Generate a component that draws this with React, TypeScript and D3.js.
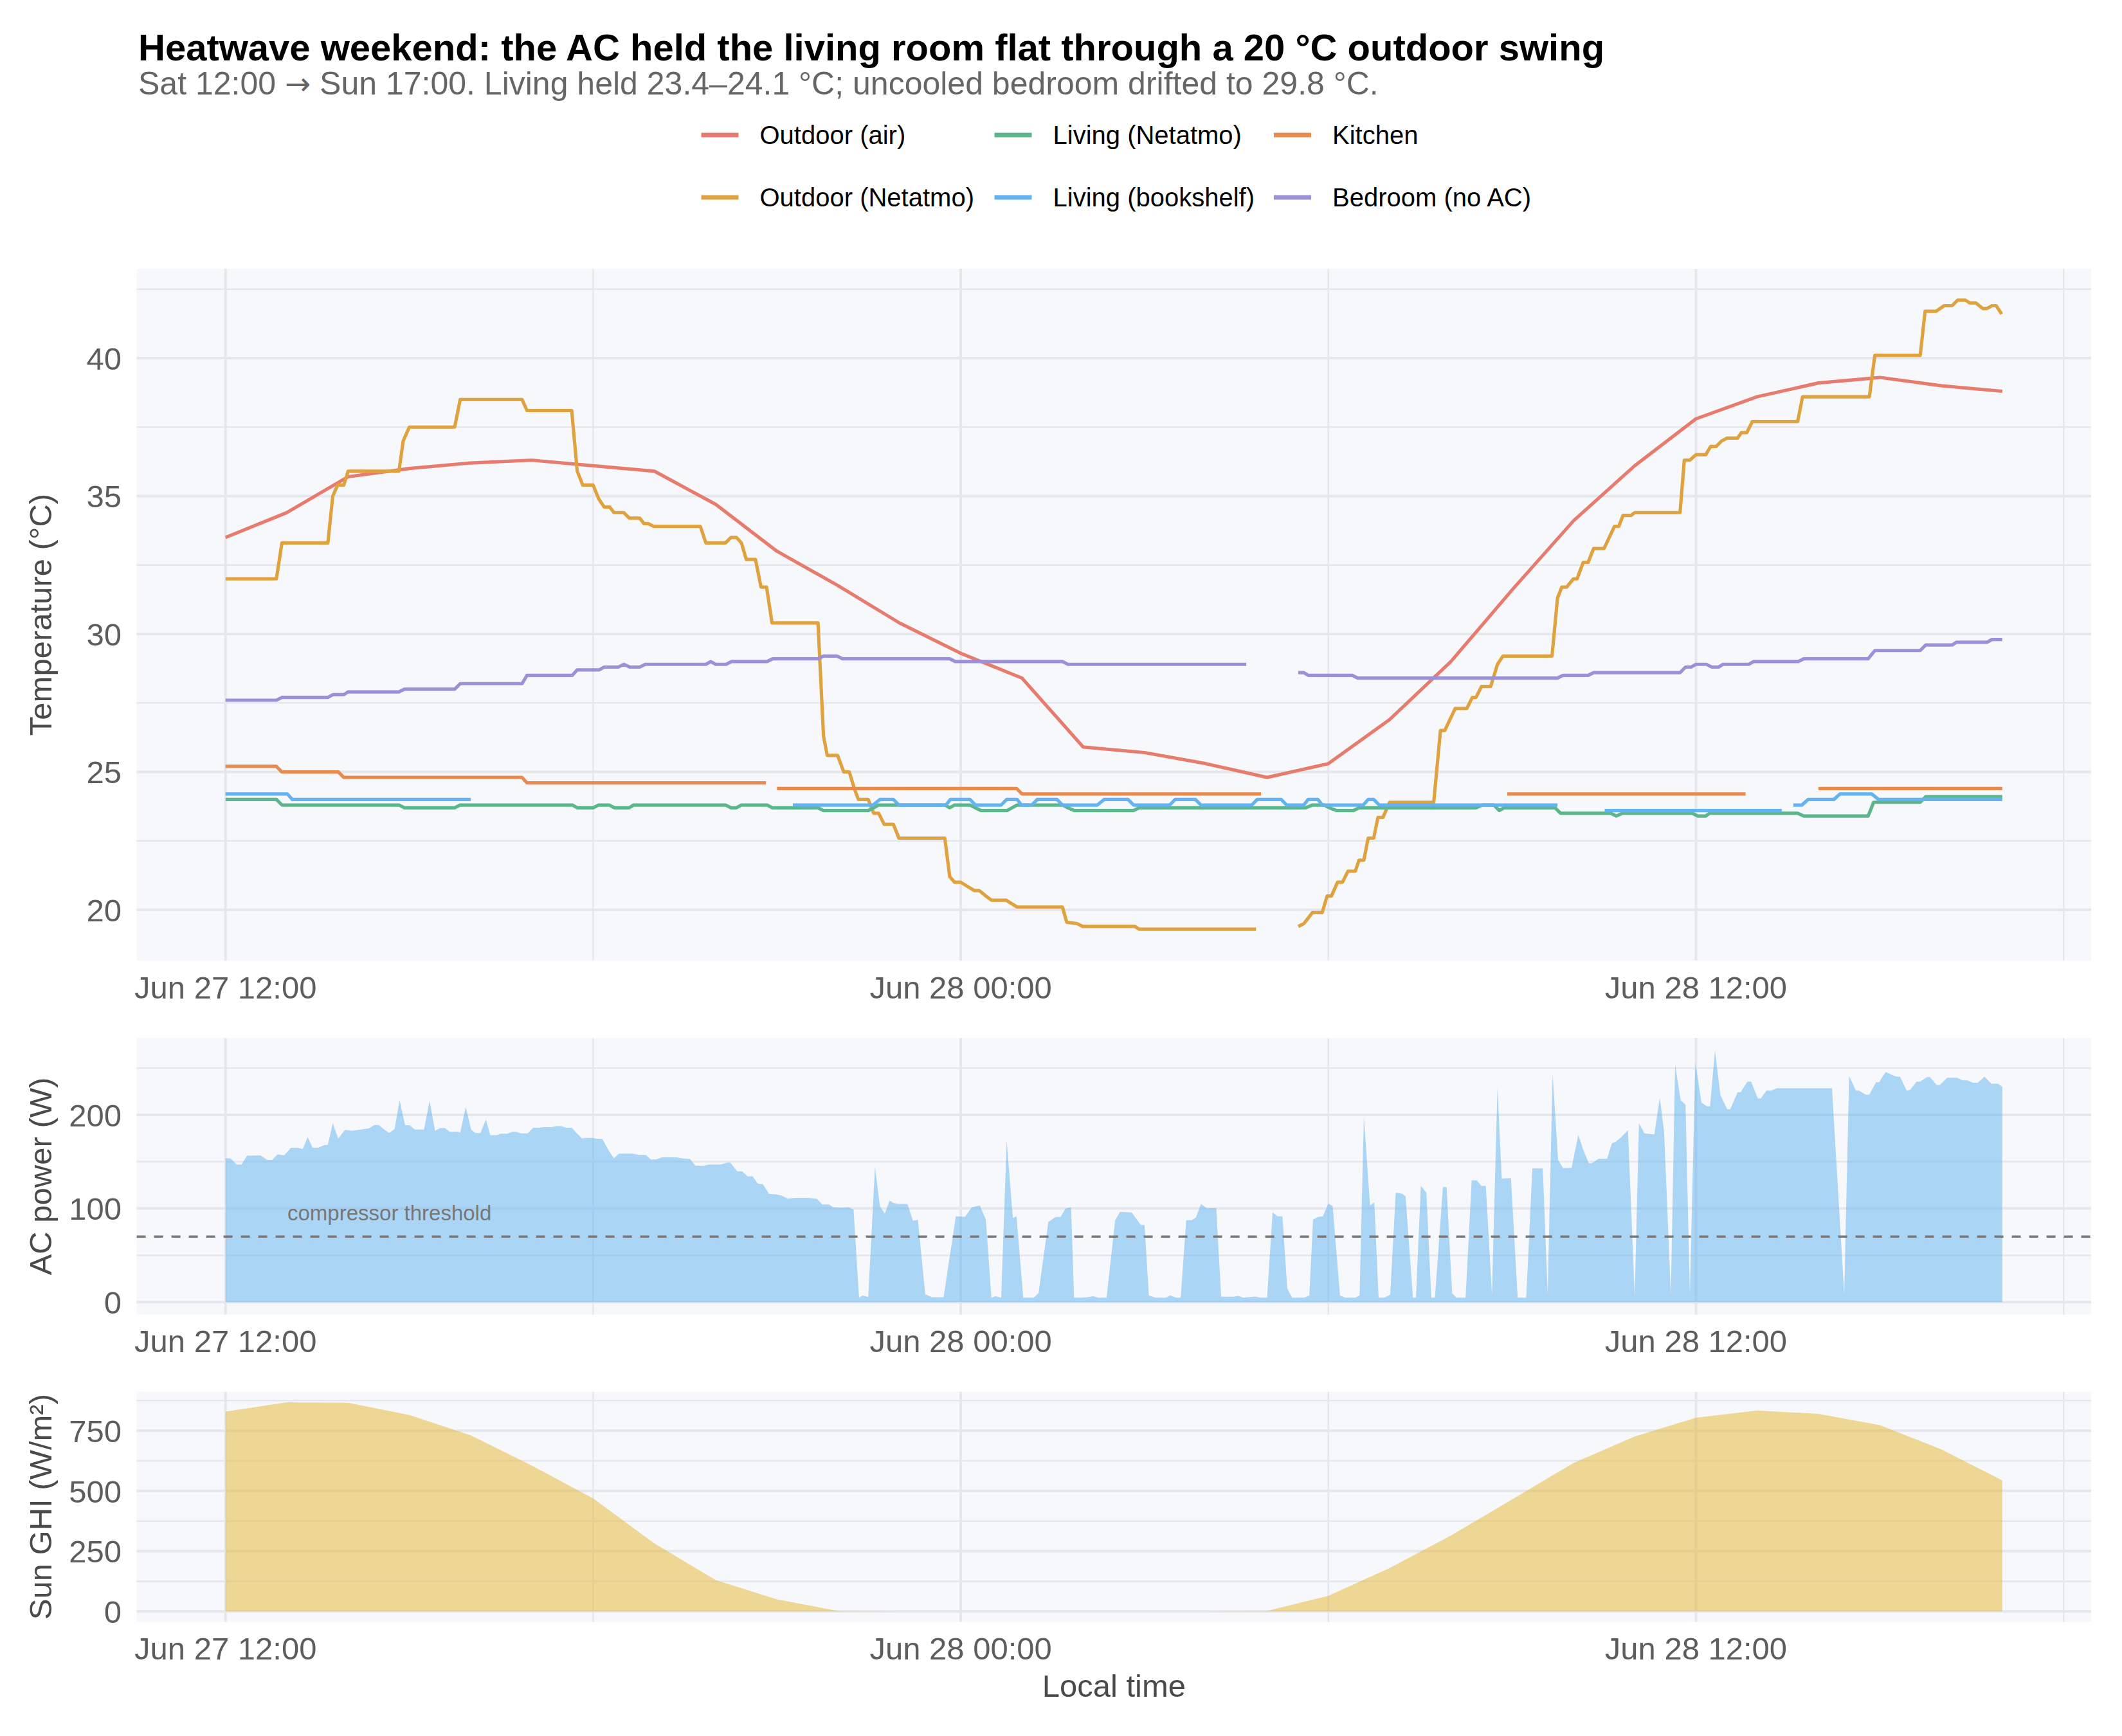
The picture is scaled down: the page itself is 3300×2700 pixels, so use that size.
import React from "react";
import * as d3 from "d3";

// ---------- DATA (hours since Jun 27 00:00, local time) ----------
const airHours = [12,13,14,15,16,17,18,19,20,21,22,23,24,25,26,27,28,29,30,31,32,33,34,35,36,37,38,39,40,41];
const airTemp = [33.5,34.4,35.7,36.0,36.2,36.3,36.1,35.9,34.7,33.0,31.75,30.4,29.3,28.4,25.9,25.7,25.3,24.8,25.3,26.9,29.0,31.6,34.1,36.1,37.8,38.6,39.1,39.3,39.0,38.8];

// null = gap in the record
const outNetHours = [12.0,12.83,12.92,13.67,13.75,13.83,13.93,14.0,14.83,14.9,15.0,15.74,15.83,16.84,16.92,17.65,17.74,17.83,18.0,18.09,18.18,18.27,18.34,18.5,18.59,18.76,18.83,18.9,18.99,19.75,19.84,20.16,20.25,20.34,20.42,20.5,20.65,20.74,20.83,20.92,21.67,21.76,21.82,21.99,22.09,22.18,22.27,22.33,22.49,22.58,22.66,22.75,22.9,22.99,23.74,23.82,23.9,24.0,24.11,24.22,24.3,24.41,24.5,24.74,24.92,25.66,25.73,25.9,25.99,26.84,26.91,28.82,29.2,29.51,29.6,29.74,29.9,29.98,30.05,30.15,30.23,30.32,30.44,30.5,30.58,30.65,30.74,30.81,30.89,31.0,31.72,31.83,31.9,32.07,32.26,32.35,32.41,32.5,32.65,32.76,32.85,33.65,33.74,33.81,33.89,34.0,34.06,34.16,34.24,34.33,34.5,34.67,34.74,34.81,34.94,35.0,35.74,35.81,35.9,36.0,36.16,36.24,36.33,36.42,36.51,36.68,36.74,36.83,36.92,37.66,37.74,38.83,38.92,39.66,39.74,39.92,40.05,40.18,40.27,40.4,40.47,40.57,40.68,40.75,40.83,40.9,40.99];
const outNetTemp = [32.0,32.0,33.3,33.3,35.0,35.4,35.4,35.9,35.9,37.0,37.5,37.5,38.5,38.5,38.1,38.1,35.9,35.4,35.4,34.9,34.6,34.6,34.4,34.4,34.2,34.2,34.0,34.0,33.9,33.9,33.3,33.3,33.5,33.5,33.3,32.7,32.7,31.7,31.7,30.4,30.4,26.3,25.6,25.6,25.0,25.0,24.35,24.0,24.0,23.5,23.5,23.1,23.1,22.6,22.6,21.2,21.0,21.0,20.85,20.7,20.7,20.5,20.35,20.35,20.1,20.1,19.55,19.5,19.4,19.4,19.3,19.3,null,19.4,19.5,19.9,19.9,20.5,20.5,21.0,21.0,21.4,21.4,21.8,21.8,22.6,22.6,23.35,23.35,23.9,23.9,26.5,26.5,27.3,27.3,27.7,27.7,28.1,28.1,28.9,29.2,29.2,31.3,31.7,31.7,32.0,32.0,32.6,32.6,33.1,33.1,33.9,33.9,34.3,34.3,34.4,34.4,36.3,36.3,36.5,36.5,36.8,36.8,37.0,37.1,37.1,37.3,37.3,37.7,37.7,38.6,38.6,40.1,40.1,41.7,41.7,41.9,41.9,42.1,42.1,42.0,42.0,41.8,41.8,41.9,41.9,41.6];

const livNetHours = [12.0,12.83,12.92,14.83,14.92,15.74,15.83,17.66,17.74,18.0,18.09,18.26,18.35,18.59,18.66,20.16,20.25,20.34,20.42,20.84,20.92,21.67,21.76,22.49,22.58,22.66,23.74,23.82,23.9,24.15,24.24,24.33,24.76,24.92,25.66,25.75,25.85,26.82,26.91,29.63,29.74,29.93,30.02,30.13,30.41,30.5,32.41,32.51,32.7,32.79,32.87,33.7,33.79,34.61,34.7,34.8,35.94,36.03,36.16,36.22,37.66,37.76,38.81,38.9,39.66,39.75,41.0];
const livNetTemp = [24.0,24.0,23.8,23.8,23.7,23.7,23.8,23.8,23.7,23.7,23.8,23.8,23.7,23.7,23.8,23.8,23.7,23.7,23.8,23.8,23.7,23.7,23.6,23.6,23.7,23.8,23.8,23.7,23.8,23.8,23.7,23.6,23.6,23.8,23.8,23.7,23.6,23.6,23.7,23.7,23.8,23.8,23.7,23.6,23.6,23.7,23.7,23.8,23.8,23.6,23.7,23.7,23.5,23.5,23.4,23.5,23.5,23.4,23.4,23.5,23.5,23.4,23.4,23.9,23.9,24.1,24.1];

const livShelfHours = [12.0,13.01,13.09,16.0,18.0,21.26,22.57,22.68,22.9,22.99,23.76,23.83,24.15,24.24,24.66,24.75,24.92,24.99,25.16,25.25,25.57,25.66,26.23,26.34,26.73,26.82,27.41,27.5,27.83,27.92,28.75,28.84,29.23,29.32,29.6,29.67,29.83,29.9,30.57,30.65,30.74,30.83,33.74,34.1,34.51,37.4,37.5,37.59,37.73,37.83,38.25,38.35,38.87,38.98,41.0];
const livShelfTemp = [24.2,24.2,24.0,24.0,null,23.8,23.8,24.0,24.0,23.8,23.8,24.0,24.0,23.8,23.8,24.0,24.0,23.8,23.8,24.0,24.0,23.8,23.8,24.0,24.0,23.8,23.8,24.0,24.0,23.8,23.8,24.0,24.0,23.8,23.8,24.0,24.0,23.8,23.8,24.0,24.0,23.8,23.8,null,23.6,23.6,null,23.8,23.8,24.0,24.0,24.2,24.2,24.0,24.0];

const kitchenHours = [12.0,12.83,12.92,13.84,13.93,16.84,16.92,20.82,20.9,21.0,24.91,25.0,28.9,30.0,32.92,36.81,37.5,38.0,41.0];
const kitchenTemp = [25.2,25.2,25.0,25.0,24.8,24.8,24.6,24.6,null,24.4,24.4,24.2,24.2,null,24.2,24.2,null,24.4,24.4];

const bedHours = [12.0,12.83,12.92,13.67,13.75,13.93,14.0,14.83,14.92,15.74,15.83,16.84,16.92,17.66,17.74,18.1,18.18,18.41,18.5,18.6,18.76,18.85,19.84,19.92,20.0,20.17,20.26,20.84,20.93,21.67,21.76,21.98,22.07,23.82,23.91,25.66,25.75,28.66,29.0,29.51,29.6,29.67,30.39,30.48,33.74,33.83,34.24,34.33,35.74,35.83,35.92,36.0,36.17,36.26,36.37,36.44,36.86,36.94,37.67,37.76,38.81,38.92,39.66,39.75,40.18,40.25,40.75,40.83,41.0];
const bedTemp = [27.6,27.6,27.7,27.7,27.8,27.8,27.9,27.9,28.0,28.0,28.2,28.2,28.5,28.5,28.7,28.7,28.8,28.8,28.9,28.8,28.8,28.9,28.9,29.0,28.9,28.9,29.0,29.0,29.1,29.1,29.2,29.2,29.1,29.1,29.0,29.0,28.9,28.9,null,28.6,28.6,28.5,28.5,28.4,28.4,28.5,28.5,28.6,28.6,28.8,28.8,28.9,28.9,28.8,28.8,28.9,28.9,29.0,29.0,29.1,29.1,29.4,29.4,29.6,29.6,29.7,29.7,29.8,29.8];

const acHours = [12.0,12.08,12.18,12.26,12.35,12.57,12.68,12.76,12.85,12.96,13.07,13.18,13.26,13.34,13.42,13.51,13.62,13.67,13.75,13.84,13.95,14.06,14.17,14.34,14.43,14.5,14.59,14.67,14.76,14.84,14.93,15.0,15.09,15.24,15.33,15.42,15.5,15.58,15.66,15.8,15.83,15.92,16.01,16.08,16.16,16.25,16.32,16.43,16.49,16.6,16.68,16.74,16.82,16.93,17.02,17.12,17.19,17.32,17.39,17.48,17.56,17.65,17.73,17.82,17.87,17.99,18.04,18.15,18.26,18.34,18.42,18.64,18.75,18.86,18.94,19.03,19.12,19.36,19.45,19.58,19.67,19.8,19.89,20.08,20.19,20.24,20.35,20.43,20.52,20.6,20.69,20.77,20.87,20.99,21.07,21.18,21.29,21.51,21.65,21.74,21.85,21.92,22.06,22.17,22.25,22.34,22.4,22.49,22.6,22.68,22.76,22.84,22.9,22.99,23.13,23.22,23.3,23.42,23.53,23.72,23.83,23.92,24.07,24.18,24.31,24.41,24.5,24.57,24.66,24.75,24.85,24.91,25.02,25.19,25.27,25.43,25.55,25.63,25.71,25.8,25.85,25.96,26.07,26.16,26.24,26.38,26.52,26.6,26.79,26.94,27.0,27.07,27.18,27.35,27.42,27.51,27.59,27.68,27.77,27.84,27.92,28.01,28.17,28.25,28.45,28.53,28.61,28.81,28.89,29.0,29.09,29.17,29.25,29.33,29.41,29.61,29.69,29.75,29.83,29.91,30.0,30.07,30.19,30.27,30.44,30.51,30.58,30.68,30.75,30.82,30.91,31.01,31.1,31.21,31.26,31.38,31.43,31.51,31.6,31.68,31.74,31.87,31.93,32.02,32.09,32.24,32.34,32.42,32.5,32.57,32.67,32.76,32.83,32.98,33.09,33.23,33.33,33.5,33.58,33.66,33.75,33.83,33.97,34.08,34.16,34.25,34.3,34.41,34.55,34.63,34.69,34.78,34.89,35.0,35.07,35.16,35.32,35.41,35.48,35.59,35.66,35.75,35.83,35.9,35.99,36.09,36.18,36.23,36.31,36.4,36.51,36.56,36.68,36.73,36.84,36.9,37.01,37.06,37.15,37.23,37.32,38.22,38.42,38.5,38.61,38.66,38.77,38.83,38.94,38.99,39.05,39.1,39.19,39.27,39.33,39.44,39.5,39.6,39.66,39.77,39.82,39.93,39.98,40.1,40.26,40.35,40.43,40.52,40.6,40.71,40.82,40.93,41.0];
const acWatts = [153.7,153.7,147,147,156.4,156.7,151.9,151.9,157.8,157,165,165,163.5,176.4,165,165,168,168,190.9,174.8,184,183,184,185.6,189.3,189.3,184.4,180.8,185,215.7,189,189,184.4,184.4,215,183,186,186,182,182,181,208.5,184,180.7,180.7,195,178.4,178.4,180,180,182,182,180.3,180.3,186.3,186.3,187,187,188,188,186.3,186.3,180.7,174.8,175.5,175.5,174.8,174.3,161.2,153.7,158.7,158.7,157.3,157.3,152.5,152.5,154.7,154.7,153.7,153,145.8,145.8,147,147,149,149,139.8,139.8,134.5,134.5,126.6,126,115.7,115,114,110.4,111.4,111.4,110.4,104.3,104.3,101.2,100.8,101.2,98.8,4.8,7.2,5.3,144.6,102.4,94.5,108.5,106,104.9,104.9,86.8,88,8.4,5.3,5.3,53,91.6,91.1,101.2,103.2,88,4.8,6.3,4.8,172.4,89.7,91.6,4.8,4.8,9.6,85.6,90.9,90.9,100,101.2,4.8,4.8,5.3,6.3,4.8,4.8,87.3,96.4,95.7,82.4,82.4,7.2,4.8,4.8,7.2,4.8,4.8,87.5,87.5,90.4,104.9,100.5,100.5,5.8,5.8,6.7,4.8,6,4.8,4.8,95.9,91.6,91.6,14.4,4.8,4.8,7.2,88,90.9,91.6,105.3,102.9,7.2,4.8,4.8,7.2,197.6,103.2,106.6,4.8,4.8,7.9,116.9,115.7,113,4.8,4.8,124.2,116.9,4.8,4.8,122.9,122.9,9.6,4.8,4.8,130.2,130.2,124.2,124.2,8.4,229,132.1,132.5,4.8,4.8,142.9,142.9,8.4,243.5,151.8,143.4,143.4,178.8,162.7,148.3,148.3,153.1,153.1,170,171.3,176.1,183.8,6,190.9,180.3,179.1,218.2,182,8.4,253.6,215.8,210.9,8.4,256,213.3,209.2,209.2,268.8,221,206,206,224.2,224.2,235.7,235.7,217.6,217.6,226,226,228.5,228.5,8.4,241.5,226,226,221.7,221.7,235,235,241.5,245.9,243,241,241,225.9,227,235.7,235.7,240.5,240.5,232,232,239.8,239.8,237,237,234.5,234.5,241,233.4,233.4,230.2];

const sunHours = [12,13,14,15,16,17,18,19,20,21,22,23,24,25,26,27,28,29,30,31,32,33,34,35,36,37,38,39,40,41];
const sunGhi = [829,868,866,815,731,605,469,282,130,50,2,0,0,0,0,0,0,2,65,180,315,465,616,726,804,834,820,773,673,544];

const compressorThreshold = 70;

const tempTicks = [20,25,30,35,40];
const tempMinor = [22.5,27.5,32.5,37.5,42.5];
const acTicks = [0,100,200];
const acMinor = [50,150,250];
const sunTicks = [0,250,500,750];
const sunMinor = [125,375,625,875];
const xLabelHours = [12,24,36];
const xLabels = ["Jun 27 12:00","Jun 28 00:00","Jun 28 12:00"];
const xMinorHours = [18,30,42];

const seriesNames = ["Outdoor (air)","Outdoor (Netatmo)","Living (Netatmo)","Living (bookshelf)","Kitchen","Bedroom (no AC)"];
const seriesColors = ["#e77c6e","#e0a13f","#5bb78b","#63b3f2","#e98a4f","#9c90d9"];

// ---------- LAYOUT ----------
const W = 3300, H = 2700;
const PL = 212.6, PR = 3252;
const P1 = [418, 1494];
const P2 = [1614.4, 2044.7];
const P3 = [2164.7, 2522.5];
const FONT = "'Liberation Sans', Arial, Helvetica, sans-serif";
const BG = "#f7f8fb";
const GRID = "#e5e7ec";
const TICK = "#5d5d5d";

const BASE = new Date(2020, 5, 27, 0, 0, 0).getTime();
const at = (h: number) => new Date(BASE + h * 3600000);

function pad(lo: number, hi: number) {
  const r = hi - lo;
  return [lo - r * 0.05, hi + r * 0.05];
}

export default function App() {
  const tFirst = d3.min(airHours)!, tLast = d3.max(airHours)!;
  const [xl, xh] = pad(tFirst, tLast);
  const x = d3.scaleTime().domain([at(xl), at(xh)]).range([PL, PR]);

  const allTemps = [airTemp, outNetTemp, livNetTemp, livShelfTemp, kitchenTemp, bedTemp]
    .flat().filter((v) => v != null) as number[];
  const yT = d3.scaleLinear().domain(pad(d3.min(allTemps)!, d3.max(allTemps)!)).range([P1[1], P1[0]]);
  const yA = d3.scaleLinear().domain(pad(0, d3.max(acWatts)!)).range([P2[1], P2[0]]);
  const yS = d3.scaleLinear().domain(pad(0, d3.max(sunGhi)!)).range([P3[1], P3[0]]);

  const series = [
    [airHours, airTemp],
    [outNetHours, outNetTemp],
    [livNetHours, livNetTemp],
    [livShelfHours, livShelfTemp],
    [kitchenHours, kitchenTemp],
    [bedHours, bedTemp],
  ] as [number[], (number | null)[]][];

  const tLine = d3
    .line<[number, number | null]>()
    .defined((d) => d[1] != null)
    .x((d) => x(at(d[0])))
    .y((d) => yT(d[1] as number));

  const acArea = d3
    .area<[number, number]>()
    .x((d) => x(at(d[0])))
    .y0(yA(0))
    .y1((d) => yA(d[1]));
  const sunArea = d3
    .area<[number, number]>()
    .x((d) => x(at(d[0])))
    .y0(yS(0))
    .y1((d) => yS(d[1]));

  const panel = (
    key: string,
    top: number,
    bot: number,
    y: d3.ScaleLinear<number, number>,
    major: number[],
    minor: number[],
    fmt: (v: number) => string
  ) => (
    <g key={key}>
      <rect x={PL} y={top} width={PR - PL} height={bot - top} fill={BG} />
      {minor.map((v) => (
        <line key={"m" + v} x1={PL} x2={PR} y1={y(v)} y2={y(v)} stroke={GRID} strokeWidth={2.5} />
      ))}
      {major.map((v) => (
        <line key={"M" + v} x1={PL} x2={PR} y1={y(v)} y2={y(v)} stroke={GRID} strokeWidth={4} />
      ))}
      {xMinorHours.map((h) => (
        <line key={"vx" + h} x1={x(at(h))} x2={x(at(h))} y1={top} y2={bot} stroke={GRID} strokeWidth={2.5} />
      ))}
      {xLabelHours.map((h) => (
        <line key={"Vx" + h} x1={x(at(h))} x2={x(at(h))} y1={top} y2={bot} stroke={GRID} strokeWidth={4} />
      ))}
      {major.map((v) => (
        <text key={"t" + v} x={189} y={y(v)} dy="0.36em" textAnchor="end" fontSize={49} fill={TICK} fontFamily={FONT}>
          {fmt(v)}
        </text>
      ))}
      {xLabelHours.map((h, i) => (
        <text key={"xl" + h} x={x(at(h))} y={bot + 58.5} textAnchor="middle" fontSize={49} fill={TICK} fontFamily={FONT}>
          {xLabels[i]}
        </text>
      ))}
    </g>
  );

  const legendCols = [1090.5, 1546.5, 1981];
  const legendRows = [210, 307];

  return (
    <svg width={W} height={H} style={{ position: "absolute", left: 0, top: 0, background: "#fff" }} xmlns="http://www.w3.org/2000/svg">
      <rect x={0} y={0} width={W} height={H} fill="#ffffff" />
      <text x={215} y={94} fontSize={58} fontWeight="bold" fill="#000" fontFamily={FONT}>
        Heatwave weekend: the AC held the living room flat through a 20 °C outdoor swing
      </text>
      <text x={215} y={147} fontSize={50} fill="#666" fontFamily={FONT}>
        Sat 12:00 <tspan fontFamily="'DejaVu Sans', sans-serif" fontSize={48}>→</tspan> Sun 17:00. Living held 23.4–24.1 °C; uncooled bedroom drifted to 29.8 °C.
      </text>

      {seriesNames.map((name, i) => {
        const col = Math.floor(i / 2), row = i % 2;
        const lx = legendCols[col], ly = legendRows[row];
        return (
          <g key={name}>
            <line x1={lx} x2={lx + 58} y1={ly} y2={ly} stroke={seriesColors[i]} strokeWidth={7} />
            <text x={lx + 91} y={ly} dy="0.36em" fontSize={40} fill="#000" fontFamily={FONT}>
              {name}
            </text>
          </g>
        );
      })}

      {panel("p1", P1[0], P1[1], yT, tempTicks, tempMinor, (v) => String(v))}
      {panel("p2", P2[0], P2[1], yA, acTicks, acMinor, (v) => String(v))}
      {panel("p3", P3[0], P3[1], yS, sunTicks, sunMinor, (v) => String(v))}

      <g>
        {series.map(([hs, vs], i) => (
          <path
            key={seriesNames[i]}
            d={tLine(hs.map((h, j) => [h, vs[j]]) as [number, number | null][]) || ""}
            fill="none"
            stroke={seriesColors[i]}
            strokeWidth={5.2}
            strokeLinejoin="round"
          />
        ))}
      </g>

      <path d={acArea(acHours.map((h, j) => [h, acWatts[j]]) as [number, number][]) || ""} fill="#5fb2f0" fillOpacity={0.5} />
      <line
        x1={PL}
        x2={PR}
        y1={yA(compressorThreshold)}
        y2={yA(compressorThreshold)}
        stroke="#787878"
        strokeWidth={3.5}
        strokeDasharray="14,13"
      />
      <text x={447} y={yA(compressorThreshold) - 25} fontSize={33} fill="#777" fontFamily={FONT}>
        compressor threshold
      </text>

      <path d={sunArea(sunHours.map((h, j) => [h, sunGhi[j]]) as [number, number][]) || ""} fill="#e5b62f" fillOpacity={0.5} />

      <text transform={`translate(80,${(P1[0] + P1[1]) / 2}) rotate(-90)`} textAnchor="middle" fontSize={49} fill="#4a4a4a" fontFamily={FONT}>
        Temperature (°C)
      </text>
      <text transform={`translate(80,${(P2[0] + P2[1]) / 2}) rotate(-90)`} textAnchor="middle" fontSize={49} fill="#4a4a4a" fontFamily={FONT}>
        AC power (W)
      </text>
      <text transform={`translate(80,${(P3[0] + P3[1]) / 2}) rotate(-90)`} textAnchor="middle" fontSize={49} fill="#4a4a4a" fontFamily={FONT}>
        Sun GHI (W/m²)
      </text>
      <text x={(PL + PR) / 2} y={2639} textAnchor="middle" fontSize={49} fill="#4a4a4a" fontFamily={FONT}>
        Local time
      </text>
    </svg>
  );
}
